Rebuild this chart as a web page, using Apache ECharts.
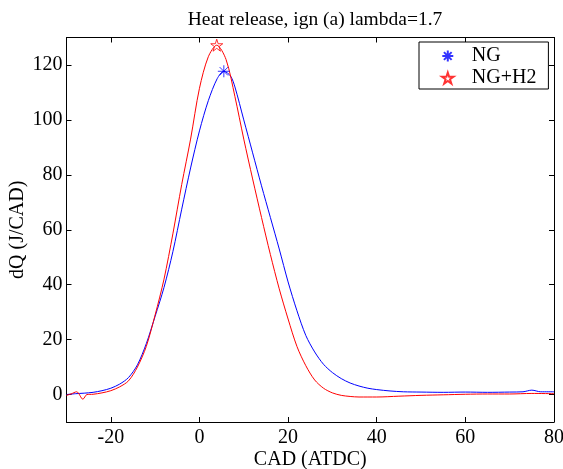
<!DOCTYPE html>
<html>
<head>
<meta charset="utf-8">
<script src="https://cdn.jsdelivr.net/npm/echarts@6/dist/echarts.min.js"></script>
<style>
  html, body { margin: 0; padding: 0; background: #fff; }
  #main { width: 563px; height: 469px; }
</style>
</head>
<body>
<div id="main"></div>
<script>
// NG curve (blue)
var cadNG = [-30, -28, -26, -24, -22, -20, -18, -16, -14, -12, -10, -8, -6, -4, -2, 0, 2, 4, 5.5, 7, 8, 10, 12, 14, 16, 18, 20, 22, 24, 26, 28, 30, 32, 34, 36, 38, 40, 43, 46, 50, 55, 60, 65, 70, 73, 75, 77, 80];
var dqNG = [0, 0.3, 0.5, 0.8, 1.4, 2.3, 3.8, 6.2, 10.8, 18.5, 28.5, 39, 52, 67.5, 82.5, 96, 107, 115, 117.7, 116, 112, 100, 88, 76, 64.5, 53, 41, 30.5, 21.5, 15.5, 11, 8, 5.8, 4.2, 3.1, 2.3, 1.8, 1.3, 1.0, 0.9, 0.8, 0.9, 0.8, 0.9, 1.0, 1.6, 1.0, 1.0];

// NG+H2 curve (red)
var cadH2 = [-30, -29, -27.7, -26.3, -25.4, -24, -22, -20, -18, -16, -14, -12, -10, -8, -6, -4, -2, 0, 2, 3.9, 6, 8, 10, 12, 14, 16, 18, 20, 22, 24, 26, 28, 30, 32, 34, 36, 40, 45, 50, 55, 60, 65, 70, 75, 80];
var dqH2 = [-0.3, 0.2, 1.0, -1.7, 0, 0.1, 0.6, 1.4, 2.8, 5.0, 10.0, 17.5, 29, 42, 58.5, 76.5, 93, 111.5, 123, 127.2, 122, 108.5, 93, 78.5, 64.5, 51, 38.5, 27.5, 17.5, 10.5, 5.3, 2.3, 0.6, -0.3, -0.7, -0.9, -0.9, -0.6, -0.3, -0.1, 0.1, 0.2, 0.2, 0.4, 0.3];

// peak markers
var peakNG = [5.5, 117.7];
var peakH2 = [3.9, 127.2];

var xTicks = [-20, 0, 20, 40, 60, 80];
var yTicks = [0, 20, 40, 60, 80, 100, 120];

var starPath = 'path://M50 0L61.2 34.6L97.6 34.5L68.1 55.9L79.4 90.5L50 69L20.6 90.5L31.9 55.9L2.4 34.5L38.8 34.6Z';
var asteriskPath = 'path://M50 0L50 100M0 50L100 50M15 15L85 85M85 15L15 85';

function zip(xs, ys) {
    var out = [];
    for (var i = 0; i < xs.length; i++) out.push([xs[i], ys[i]]);
    return out;
}

var font = 'Liberation Serif';
var tickStyle = { show: true, inside: true, length: 5, lineStyle: { color: '#000' } };

function xAxisDef(pos, labels) {
    return {
        type: 'value', position: pos, min: -30, max: 80,
        axisLine: { show: true, onZero: false, lineStyle: { color: '#000', width: 1 } },
        axisTick: Object.assign({ customValues: xTicks }, tickStyle),
        axisLabel: { show: labels, customValues: xTicks, color: '#000', fontFamily: font, fontSize: 20, margin: 6 },
        splitLine: { show: false }
    };
}
function yAxisDef(pos, labels) {
    return {
        type: 'value', position: pos, min: -10, max: 130,
        axisLine: { show: true, onZero: false, lineStyle: { color: '#000', width: 1 } },
        axisTick: Object.assign({ customValues: yTicks }, tickStyle),
        axisLabel: { show: labels, customValues: yTicks, color: '#000', fontFamily: font, fontSize: 20, margin: 4 },
        splitLine: { show: false }
    };
}

var xBottom = xAxisDef('bottom', true);
xBottom.name = 'CAD (ATDC)';
xBottom.nameLocation = 'middle';
xBottom.nameGap = 28;
xBottom.nameMoveOverlap = false;
xBottom.nameTextStyle = { color: '#000', fontFamily: font, fontSize: 20 };

var yLeft = yAxisDef('left', true);
yLeft.name = 'dQ (J/CAD)';
yLeft.nameLocation = 'middle';
yLeft.nameGap = 39;
yLeft.nameMoveOverlap = false;
yLeft.nameTextStyle = { color: '#000', fontFamily: font, fontSize: 20 };

var chart = echarts.init(document.getElementById('main'), null, { renderer: 'canvas' });

chart.setOption({
    backgroundColor: '#fff',
    animation: false,
    title: {
        text: 'Heat release, ign (a) lambda=1.7',
        left: 310, top: 5, textAlign: 'center',
        textStyle: { color: '#000', fontFamily: font, fontSize: 19.5, fontWeight: 'normal' }
    },
    grid: { left: 66.5, right: 9, top: 37.5, bottom: 47, containLabel: false, outerBoundsMode: 'none' },
    legend: {
        data: ['NG', 'NG+H2'],
        orient: 'vertical',
        left: 419, top: 42,
        padding: [4, 12, 1, 22],
        itemWidth: 38, itemHeight: 11, itemGap: 2,
        borderColor: '#000', borderWidth: 1, backgroundColor: '#fff',
        textStyle: { color: '#000', fontFamily: font, fontSize: 20, lineHeight: 20 }
    },
    xAxis: [xBottom, xAxisDef('top', false)],
    yAxis: [yLeft, yAxisDef('right', false)],
    series: [
        {
            name: 'NG curve', type: 'line', data: zip(cadNG, dqNG),
            showSymbol: false, smooth: 0.3,
            lineStyle: { color: '#0000ff', width: 1 }, z: 2
        },
        {
            name: 'NG+H2 curve', type: 'line', data: zip(cadH2, dqH2),
            showSymbol: false, smooth: 0.3,
            lineStyle: { color: '#ff0000', width: 1 }, z: 3
        },
        {
            name: 'NG', type: 'scatter', data: [peakNG],
            symbol: asteriskPath, symbolSize: 12,
            itemStyle: { color: 'rgba(0,0,0,0)', borderColor: '#0000ff', borderWidth: 1 }, z: 4
        },
        {
            name: 'NG+H2', type: 'scatter', data: [peakH2],
            symbol: starPath, symbolSize: 12,
            itemStyle: { color: 'rgba(0,0,0,0)', borderColor: '#ff0000', borderWidth: 1 }, z: 4
        }
    ]
});
</script>
</body>
</html>
